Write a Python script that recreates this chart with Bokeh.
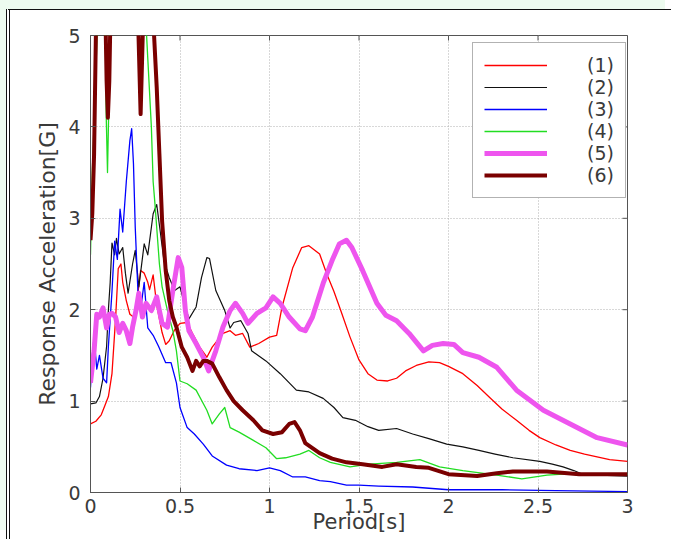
from bokeh.plotting import figure
from bokeh.models import Range1d, FixedTicker, Legend, LegendItem
from bokeh.embed import file_html
from bokeh.resources import INLINE

# ---------------- data ----------------
x_ticks = [0, 0.5, 1, 1.5, 2, 2.5, 3]
x_tick_labels = ["0", "0.5", "1", "1.5", "2", "2.5", "3"]
y_ticks = [0, 1, 2, 3, 4, 5]
y_tick_labels = ["0", "1", "2", "3", "4", "5"]
series_names = ["(1)", "(2)", "(3)", "(4)", "(5)", "(6)"]

s1_x = [0, 0.03, 0.06, 0.08, 0.1, 0.12, 0.14, 0.155, 0.17, 0.18, 0.2, 0.22, 0.24, 0.26, 0.28, 0.3,
        0.32, 0.33, 0.35, 0.37, 0.4, 0.42, 0.44, 0.47, 0.5, 0.54, 0.57, 0.61, 0.65, 0.68, 0.74, 0.78,
        0.81, 0.85, 0.89, 0.94, 1.0, 1.04, 1.07, 1.13, 1.18, 1.22, 1.28, 1.32, 1.36, 1.4, 1.45, 1.5,
        1.55, 1.6, 1.66, 1.71, 1.76, 1.82, 1.89, 1.95, 2.0, 2.08, 2.16, 2.23, 2.3, 2.38, 2.45, 2.51,
        2.6, 2.68, 2.76, 2.83, 2.9, 3.0]
s1_y = [0.75, 0.78, 0.85, 0.95, 1.05, 1.3, 1.9, 2.45, 2.5, 2.3, 2.1, 1.95, 1.92, 2.1, 2.43, 2.4,
        2.3, 2.22, 2.38, 2.05, 1.75, 1.62, 1.66, 1.78, 1.85, 1.86, 1.74, 1.59, 1.48, 1.59, 1.74, 1.77,
        1.72, 1.74, 1.59, 1.63, 1.7, 1.72, 2.03, 2.46, 2.68, 2.7, 2.61, 2.39, 2.2, 1.98, 1.7, 1.45,
        1.3, 1.23, 1.22, 1.25, 1.33, 1.39, 1.43, 1.42, 1.38, 1.3, 1.17, 1.04, 0.91, 0.79, 0.68, 0.6,
        0.52, 0.46, 0.42, 0.39, 0.36, 0.34]

s2_x = [0, 0.03, 0.05, 0.07, 0.09, 0.1, 0.11, 0.12, 0.135, 0.145, 0.16, 0.18, 0.195, 0.21, 0.235,
        0.25, 0.27, 0.3, 0.32, 0.35, 0.37, 0.39, 0.41, 0.44, 0.47, 0.5, 0.52, 0.55, 0.59, 0.62, 0.65,
        0.665, 0.7, 0.75, 0.78, 0.8, 0.84, 0.88, 0.9, 0.98, 1.06, 1.15, 1.22, 1.3, 1.36, 1.41, 1.48,
        1.55, 1.61, 1.71, 1.8, 1.89, 1.99, 2.08, 2.17, 2.26, 2.36, 2.51, 2.58, 2.64, 2.7, 2.75, 2.85, 3.0]
s2_y = [0.97, 0.98, 1.05, 1.25, 1.6, 2.0, 2.3, 2.73, 2.6, 2.78, 2.61, 2.68, 2.4, 2.18, 2.5,
        2.65, 2.25, 2.72, 2.6, 3.05, 3.15, 2.85, 2.54, 2.35, 2.21, 2.25, 2.1, 1.9, 2.03, 2.35, 2.57,
        2.56, 2.21, 1.99, 1.8, 1.86, 1.88, 1.74, 1.55, 1.44, 1.3, 1.12, 1.1, 1.03, 0.93, 0.82, 0.79,
        0.72, 0.68, 0.7, 0.64, 0.59, 0.53, 0.5, 0.46, 0.42, 0.38, 0.34, 0.31, 0.28, 0.24, 0.2, 0.19, 0.18]

s3_x = [0, 0.01, 0.02, 0.035, 0.05, 0.07, 0.09, 0.1, 0.12, 0.135, 0.15, 0.165, 0.18, 0.2, 0.22,
        0.23, 0.24, 0.25, 0.265, 0.28, 0.3, 0.32, 0.35, 0.38, 0.42, 0.45, 0.48, 0.5, 0.54, 0.58, 0.63,
        0.68, 0.76, 0.83, 0.93, 1.0, 1.06, 1.13, 1.2, 1.28, 1.34, 1.43, 1.5, 1.61, 1.8, 2.0, 2.3, 2.6, 3.0]
s3_y = [1.15, 1.5, 1.7, 1.35, 1.5, 1.25, 1.2, 1.6, 2.2, 2.75, 2.55, 3.1, 2.85, 3.4, 3.85,
        3.98, 3.6, 2.9, 2.2, 2.0, 2.3, 1.8, 1.72, 1.6, 1.42, 1.42, 1.2, 0.93, 0.71, 0.64, 0.53,
        0.4, 0.3, 0.26, 0.24, 0.27, 0.24, 0.17, 0.17, 0.13, 0.12, 0.08, 0.08, 0.07, 0.06, 0.03, 0.03, 0.02, 0.01]

s4_x = [0, 0.01, 0.03, 0.045, 0.08, 0.088, 0.095, 0.102, 0.11, 0.3, 0.32, 0.34, 0.35, 0.36, 0.385,
        0.4, 0.43, 0.46, 0.48, 0.5, 0.54, 0.59, 0.65, 0.68, 0.72, 0.75, 0.78, 0.83, 0.91, 0.98, 1.04,
        1.09, 1.17, 1.22, 1.28, 1.34, 1.45, 1.56, 1.71, 1.84, 1.95, 2.08, 2.27, 2.41, 2.55, 2.64, 3.0]
s4_y = [2.6, 3.5, 4.6, 5.5, 5.5, 4.1, 3.5, 4.2, 5.5, 5.5, 4.75, 4.0, 3.4, 3.16, 2.5,
        2.25, 1.99, 1.77, 1.55, 1.22, 1.19, 1.12, 0.9, 0.75, 0.86, 0.93, 0.71, 0.66, 0.57, 0.49, 0.37,
        0.38, 0.42, 0.46, 0.38, 0.33, 0.28, 0.31, 0.33, 0.36, 0.28, 0.24, 0.19, 0.15, 0.19, 0.2, 0.2]

s5_x = [0, 0.02, 0.035, 0.05, 0.07, 0.09, 0.105, 0.12, 0.14, 0.16, 0.18, 0.2, 0.22, 0.235, 0.255,
        0.27, 0.29, 0.31, 0.34, 0.37, 0.385, 0.4, 0.43, 0.46, 0.49, 0.51, 0.53, 0.55, 0.59, 0.63, 0.66,
        0.7, 0.74, 0.78, 0.81, 0.85, 0.88, 0.93, 0.98, 1.02, 1.06, 1.11, 1.17, 1.2, 1.24, 1.3, 1.35,
        1.39, 1.43, 1.46, 1.52, 1.6, 1.65, 1.71, 1.78, 1.86, 1.91, 1.97, 2.03, 2.08, 2.17, 2.27, 2.38,
        2.53, 2.68, 2.83, 3.0]
s5_y = [1.2, 1.55, 1.95, 1.92, 2.02, 1.8, 1.95, 1.96, 1.92, 1.75, 1.85, 1.77, 1.63, 1.81, 2.0,
        2.18, 1.92, 2.07, 1.99, 2.14, 1.99, 1.85, 1.81, 2.21, 2.57, 2.46, 1.99, 1.77, 1.63, 1.48, 1.33,
        1.55, 1.81, 1.99, 2.07, 1.96, 1.85, 1.96, 2.02, 2.14, 2.07, 1.92, 1.79, 1.77, 1.92, 2.29, 2.54,
        2.72, 2.76, 2.68, 2.43, 2.07, 1.94, 1.88, 1.74, 1.55, 1.61, 1.63, 1.62, 1.53, 1.48, 1.37, 1.12,
        0.9, 0.75, 0.6, 0.52]

s6_x = [0, 0.01, 0.02, 0.03, 0.04, 0.08, 0.09, 0.097, 0.105, 0.115, 0.26, 0.28, 0.3, 0.35, 0.37,
        0.385, 0.4, 0.42, 0.44, 0.46, 0.48, 0.51, 0.54, 0.57, 0.59, 0.61, 0.63, 0.65, 0.68, 0.72, 0.76,
        0.8, 0.85, 0.91, 0.96, 1.02, 1.07, 1.11, 1.14, 1.17, 1.2, 1.28, 1.35, 1.43, 1.52, 1.63, 1.71,
        1.82, 1.89, 2.0, 2.16, 2.27, 2.36, 2.55, 2.73, 3.0]
s6_y = [2.76, 3.05, 3.7, 5.0, 5.6, 5.6, 4.5, 4.1, 4.5, 5.6, 5.6, 4.14, 5.6, 5.2, 4.43,
        3.7, 2.97, 2.43, 2.1, 1.92, 1.81, 1.59, 1.48, 1.33, 1.44, 1.38, 1.44, 1.44, 1.41, 1.26, 1.12,
        1.0, 0.9, 0.79, 0.68, 0.64, 0.66, 0.75, 0.77, 0.68, 0.54, 0.43, 0.37, 0.33, 0.31, 0.28, 0.31,
        0.28, 0.27, 0.2, 0.18, 0.21, 0.23, 0.23, 0.2, 0.2]

# ---------------- styling ----------------
FONT = "DejaVu Sans"
TXT = "#3a3a3a"
AXC = "#555555"
colors = ["#ff0000", "#111111", "#0000ff", "#22dd22", "#ee55ee", "#7a0000"]
widths = [1.3, 1.2, 1.3, 1.3, 5, 4]
X_MIN, X_MAX, Y_MIN, Y_MAX = 0, 3, 0, 5

p = figure(width=665, height=530, output_backend="svg", toolbar_location=None,
           x_range=Range1d(X_MIN, X_MAX), y_range=Range1d(Y_MIN, Y_MAX),
           min_border_left=80, min_border_right=48, min_border_top=25, min_border_bottom=48,
           background_fill_color="white", border_fill_color="white",
           outline_line_color=AXC)
p.styles = {"margin-left": "6px", "margin-top": "9px",
            "border-top": "1px solid #111111", "border-left": "4px double #111111",
            "box-shadow": "-6px -9px 0 0 #edfbef"}

renderers = []
xs = [s1_x, s2_x, s3_x, s4_x, s5_x, s6_x]
ys = [s1_y, s2_y, s3_y, s4_y, s5_y, s6_y]
for sx, sy, c, w in zip(xs, ys, colors, widths):
    r = p.line(sx, sy, line_color=c, line_width=w, line_join="round")
    renderers.append(r)

# inward box ticks on the top and right edges (MATLAB style)
tick_dy = 0.055 * (Y_MAX - Y_MIN) / 5
tick_dx = 0.028 * (X_MAX - X_MIN) / 3
p.segment(x0=x_ticks, y0=[Y_MAX] * len(x_ticks), x1=x_ticks, y1=[Y_MAX - tick_dy] * len(x_ticks),
          line_color=AXC, line_width=1)
p.segment(x0=[X_MAX] * len(y_ticks), y0=y_ticks, x1=[X_MAX - tick_dx] * len(y_ticks), y1=y_ticks,
          line_color=AXC, line_width=1)

xt = FixedTicker(ticks=x_ticks)
yt = FixedTicker(ticks=y_ticks)
p.xaxis.ticker = xt
p.yaxis.ticker = yt
p.xaxis.major_label_overrides = {t: l for t, l in zip(x_ticks, x_tick_labels)}
p.yaxis.major_label_overrides = {t: l for t, l in zip(y_ticks, y_tick_labels)}

for ax in (p.xaxis[0], p.yaxis[0]):
    ax.axis_line_color = AXC
    ax.major_tick_line_color = AXC
    ax.major_tick_in = 5
    ax.major_tick_out = 0
    ax.minor_tick_line_color = None
    ax.major_label_text_font = FONT
    ax.major_label_text_font_size = "19px"
    ax.major_label_text_color = TXT
    ax.axis_label_text_font = FONT
    ax.axis_label_text_font_size = "21px"
    ax.axis_label_text_font_style = "normal"
    ax.axis_label_text_color = TXT

p.yaxis.axis_label_text_font_size = "22px"
p.xaxis.axis_label = "Period[s]"
p.yaxis.axis_label = "Response Acceleration[G]"
p.xaxis.major_label_standoff = 6
p.yaxis.major_label_standoff = 10
p.xaxis.axis_label_standoff = -6
p.yaxis.axis_label_standoff = 5

p.xgrid.ticker = xt
p.ygrid.ticker = yt
for g in (p.xgrid[0], p.ygrid[0]):
    g.grid_line_color = "#b0b0b0"
    g.grid_line_dash = "1 2"
    g.grid_line_width = 1

legend = Legend(items=[LegendItem(label=n, renderers=[r]) for n, r in zip(series_names, renderers)],
                location=(382, 294), orientation="vertical",
                glyph_width=63, glyph_height=20, label_height=20, spacing=0, padding=11,
                label_standoff=40, label_text_font=FONT, label_text_font_size="19px",
                label_text_color=TXT, border_line_color="#666666", border_line_width=1,
                background_fill_color="white", background_fill_alpha=1.0, margin=0)
p.add_layout(legend, "center")

open("out.html", "w").write(file_html(p, INLINE))
